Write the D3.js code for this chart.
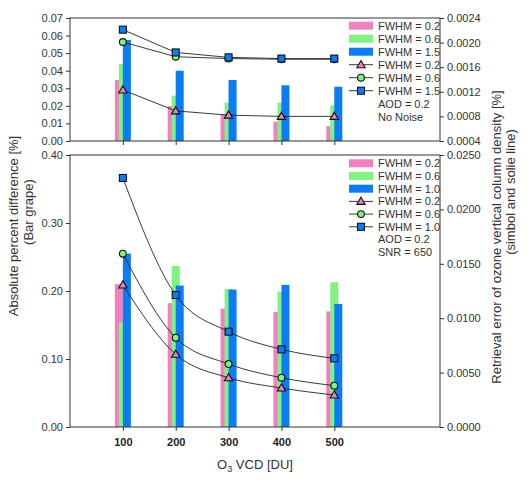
<!DOCTYPE html>
<html><head><meta charset="utf-8">
<script src="https://cdn.jsdelivr.net/npm/d3@7"></script>
<style>
html,body{margin:0;padding:0;background:#fff;}
svg{display:block;font-family:"Liberation Sans",Arial,sans-serif;}
</style></head>
<body>
<svg id="c" width="530" height="487"></svg>
<script>
// ---------- data ----------
const vcd = [100, 200, 300, 400, 500];
// Top panel (AOD = 0.2, No Noise)
const topBarPink  = [0.0347, 0.0199, 0.0148, 0.0110, 0.0085];
const topBarGreen = [0.0438, 0.0258, 0.0218, 0.0218, 0.0203];
const topBarBlue  = [0.0575, 0.0400, 0.0347, 0.0317, 0.0309];
const topLineTri  = [0.00123, 0.00089, 0.00082, 0.00080, 0.00080];
const topLineCirc = [0.00201, 0.00177, 0.00174, 0.00173, 0.00173];
const topLineSq   = [0.00221, 0.00184, 0.00176, 0.00174, 0.00174];
// Bottom panel (AOD = 0.2, SNR = 650)
const botBarPink  = [0.210, 0.182, 0.174, 0.169, 0.170];
const botBarGreen = [0.154, 0.237, 0.203, 0.199, 0.213];
const botBarBlue  = [0.255, 0.208, 0.202, 0.209, 0.181];
const botLineTri  = [0.01305, 0.00668, 0.00453, 0.00358, 0.00294];
const botLineCirc = [0.01593, 0.00821, 0.00579, 0.00453, 0.00380];
const botLineSq   = [0.02289, 0.01213, 0.00876, 0.00714, 0.00631];

const topLeftTicks  = [0, 0.01, 0.02, 0.03, 0.04, 0.05, 0.06, 0.07];
const topRightTicks = [0.0004, 0.0008, 0.0012, 0.0016, 0.0020, 0.0024];
const botLeftTicks  = [0, 0.1, 0.2, 0.3, 0.4];
const botRightTicks = [0, 0.005, 0.010, 0.015, 0.020, 0.025];

const topLegend = ["FWHM = 0.2", "FWHM = 0.6", "FWHM = 1.5"];
const botLegend = ["FWHM = 0.2", "FWHM = 0.6", "FWHM = 1.0"];
const topNotes = ["AOD = 0.2", "No Noise"];
const botNotes = ["AOD = 0.2", "SNR = 650"];

// ---------- style ----------
const PINK = "#f37fbf", GREEN = "#7ff27f", BLUE = "#0a7cf5";
const AX = "#333";
const svg = d3.select("#c");

const L = 70, R = 440;
const x = d3.scaleLinear().domain([0, 700]).range([L, R]);
const BW = 8; // bar width px

function panel(o) {
  const g = svg.append("g");
  const yl = d3.scaleLinear().domain(o.lDom).range([o.bottom, o.top]);
  const yr = d3.scaleLinear().domain(o.rDom).range([o.bottom, o.top]);

  // bars: pink, green, blue
  const bars = [[o.pink, PINK, -BW], [o.green, GREEN, -BW / 2], [o.blue, BLUE, 0]];
  bars.forEach(([vals, col, off]) => {
    g.selectAll(null).data(vals).enter().append("rect")
      .attr("x", (d, i) => x(vcd[i]) + off)
      .attr("width", BW)
      .attr("y", d => yl(d))
      .attr("height", d => yl(0) - yl(d))
      .attr("fill", col);
  });

  // lines
  const series = [[o.tri, PINK, "tri"], [o.circ, GREEN, "circ"], [o.sq, BLUE, "sq"]];
  const line = d3.line().x((d, i) => x(vcd[i])).y(d => yr(d)).curve(o.curve);
  series.forEach(([vals]) => {
    g.append("path").attr("d", line(vals)).attr("fill", "none")
      .attr("stroke", "#222").attr("stroke-width", 0.9);
  });
  series.forEach(([vals, col, shape]) => {
    vals.forEach((d, i) => marker(g, x(vcd[i]), yr(d), col, shape));
  });

  // frame
  g.append("rect").attr("x", L).attr("y", o.top).attr("width", R - L).attr("height", o.bottom - o.top)
    .attr("fill", "none").attr("stroke", AX).attr("stroke-width", 1);

  // axes
  const la = d3.axisLeft(yl).tickValues(o.lTicks).tickFormat(d3.format(".2f")).tickSize(4).tickSizeOuter(0);
  const ra = d3.axisRight(yr).tickValues(o.rTicks).tickFormat(d3.format(".4f")).tickSize(4).tickSizeOuter(0);
  const ba = d3.axisBottom(x).tickValues(vcd).tickSize(4).tickSizeOuter(0);
  const gl = g.append("g").attr("transform", `translate(${L},0)`).call(la);
  const gr = g.append("g").attr("transform", `translate(${R},0)`).call(ra);
  const gb = g.append("g").attr("transform", `translate(0,${o.bottom})`).call(ba);
  [gl, gr, gb].forEach(a => {
    a.select(".domain").remove();
    a.selectAll("line").attr("stroke", AX);
    a.selectAll("text").attr("fill", "#333").style("font-size", "11px")
      .style("font-family", '"Liberation Sans",Arial,sans-serif');
  });
  gl.selectAll("text").attr("x", -7);
  gr.selectAll("text").attr("x", 7);
  if (o.xLabels) {
    gb.selectAll("text").attr("y", 11).style("font-weight", "bold").attr("fill", "#222");
  } else {
    gb.selectAll("text").remove();
  }

  // legend
  const lx = 349, tx = 378;
  const ly = o.legY, dy = o.legDy;
  [PINK, GREEN, BLUE].forEach((c, i) => {
    g.append("rect").attr("x", lx).attr("y", ly + i * dy - 4).attr("width", 24).attr("height", 8).attr("fill", c);
  });
  ["tri", "circ", "sq"].forEach((s, i) => {
    const yy = ly + (i + 3) * dy;
    g.append("line").attr("x1", lx).attr("x2", lx + 24).attr("y1", yy).attr("y2", yy).attr("stroke", "#222").attr("stroke-width", 0.9);
    marker(g, lx + 12, yy, [PINK, GREEN, BLUE][i], s);
  });
  const texts = o.legend.concat(o.legend).concat(o.notes);
  texts.forEach((t, i) => {
    g.append("text").attr("x", tx).attr("y", ly + i * dy).attr("dy", "0.36em")
      .style("font-size", "11px").attr("fill", "#333").text(t);
  });
}

function marker(g, cx, cy, col, shape) {
  if (shape === "sq") {
    g.append("rect").attr("x", cx - 3.5).attr("y", cy - 3.5).attr("width", 7).attr("height", 7)
      .attr("fill", col).attr("stroke", "#111").attr("stroke-width", 1.1);
  } else if (shape === "circ") {
    g.append("circle").attr("cx", cx).attr("cy", cy).attr("r", 3.4)
      .attr("fill", col).attr("stroke", "#111").attr("stroke-width", 1.1);
  } else {
    g.append("path").attr("d", d3.symbol(d3.symbolTriangle, 30)())
      .attr("transform", `translate(${cx},${cy + 0.6})`)
      .attr("fill", col).attr("stroke", "#111").attr("stroke-width", 1.1);
  }
}

panel({
  top: 18, bottom: 141, lDom: [0, 0.07], rDom: [0.0004, 0.0024],
  lTicks: topLeftTicks, rTicks: topRightTicks,
  pink: topBarPink, green: topBarGreen, blue: topBarBlue,
  tri: topLineTri, circ: topLineCirc, sq: topLineSq,
  curve: d3.curveLinear, xLabels: false,
  legend: topLegend, notes: topNotes, legY: 25.7, legDy: 13
});
panel({
  top: 155, bottom: 427, lDom: [0, 0.4], rDom: [0, 0.025],
  lTicks: botLeftTicks, rTicks: botRightTicks,
  pink: botBarPink, green: botBarGreen, blue: botBarBlue,
  tri: botLineTri, circ: botLineCirc, sq: botLineSq,
  curve: d3.curveMonotoneX, xLabels: true,
  legend: botLegend, notes: botNotes, legY: 163.3, legDy: 12.7
});

// axis titles
svg.append("text").attr("transform", "translate(18,226) rotate(-90)").attr("text-anchor", "middle")
  .style("font-size", "13px").attr("fill", "#333").text("Absolute percent difference [%]");
svg.append("text").attr("transform", "translate(33,212) rotate(-90)").attr("text-anchor", "middle")
  .style("font-size", "13px").attr("fill", "#333").text("(Bar grape)");
svg.append("text").attr("transform", "translate(501,237) rotate(-90)").attr("text-anchor", "middle")
  .style("font-size", "13px").attr("fill", "#333").text("Retrieval error of ozone vertical column density [%]");
svg.append("text").attr("transform", "translate(515,192) rotate(-90)").attr("text-anchor", "middle")
  .style("font-size", "13px").attr("fill", "#333").text("(simbol and solie line)");
const xt = svg.append("text").attr("x", 255).attr("y", 469).attr("text-anchor", "middle")
  .style("font-size", "13px").attr("fill", "#333");
xt.append("tspan").text("O");
xt.append("tspan").attr("dy", 3).style("font-size", "9px").text("3");
xt.append("tspan").attr("dy", -3).text(" VCD [DU]");
</script>
</body></html>
